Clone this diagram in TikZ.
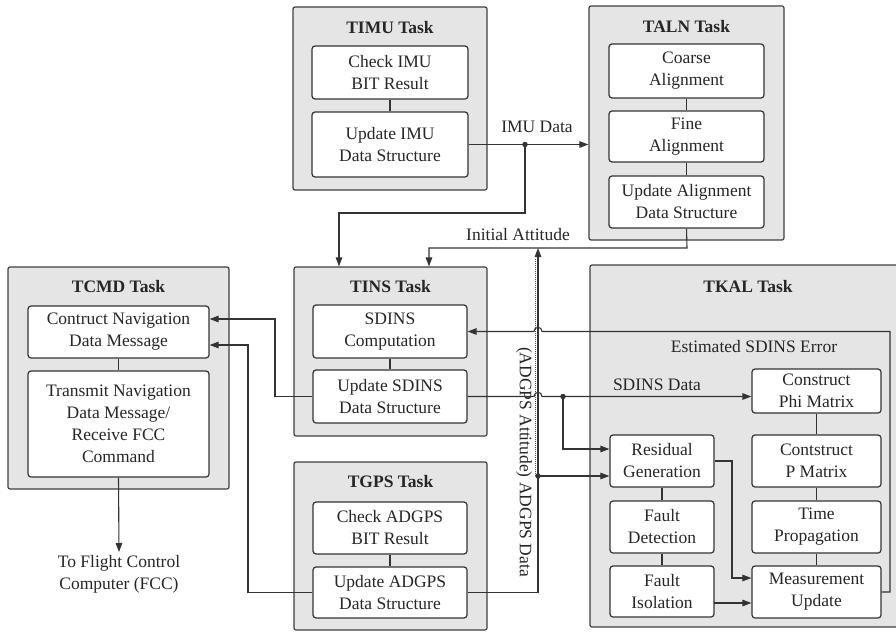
\documentclass[tikz,border=0pt]{standalone}
\usepackage{fontspec}
\setmainfont{Liberation Serif}
\usetikzlibrary{arrows.meta}
\newcommand\fsz{\fontsize{17.5}{22}\selectfont}
\begin{document}
\begin{tikzpicture}[x=1pt,y=-1pt,
 ln/.style={draw=black!80, line width=1.1pt},
 arr/.style={ln, -{Triangle[length=9pt,width=6.5pt]}},
 taskbox/.style={draw=black!75, line width=1.2pt, fill=black!10, rounded corners=2pt, inner sep=0pt},
 box/.style={draw=black!80, line width=1.2pt, fill=white, rounded corners=3pt, align=center, inner sep=0pt, text=black!85, font=\fsz},
 ttl/.style={font=\fsz\bfseries, text=black!85, inner sep=0pt},
 lbl/.style={font=\fsz, text=black!85, align=center, inner sep=0pt},
 dot/.style={circle, fill=black!80, inner sep=0pt, minimum size=5.5pt},
]
\useasboundingbox (0,0) rectangle (896,632);
\fill[white] (0,0) rectangle (896,632);

% ---------- task containers ----------
\node[taskbox, minimum width=194, minimum height=183] (timu) at (390,98.5) {};
\node[taskbox, minimum width=195, minimum height=234] (taln) at (686.5,123) {};
\node[taskbox, minimum width=193, minimum height=169] (tins) at (390.5,351.5) {};
\node[taskbox, minimum width=193, minimum height=168] (tgps) at (390.5,546) {};
\node[taskbox, minimum width=221, minimum height=222] (tcmd) at (118.5,378) {};
\begin{scope}
\clip (0,0) rectangle (896,632);
\node[taskbox, minimum width=320, minimum height=362] (tkal) at (750,446) {};
\end{scope}

% ---------- titles ----------
\node[ttl] (ttimu) at (390,28) {TIMU Task};
\node[ttl] (ttaln) at (686.5,27) {TALN Task};
\node[ttl] (ttins) at (390.5,287) {TINS Task};
\node[ttl] (ttgps) at (390.5,482) {TGPS Task};
\node[ttl] (ttcmd) at (118.5,287) {TCMD Task};
\node[ttl] (ttkal) at (748,287) {TKAL Task};

% ---------- inner boxes ----------
\node[box, minimum width=156, minimum height=53] (imu1) at (390,72.5) {Check IMU\\BIT Result};
\node[box, minimum width=156, minimum height=65] (imu2) at (390,144.5) {Update IMU\\Data Structure};

\node[box, minimum width=155, minimum height=54] (aln1) at (686.5,71) {Coarse\\Alignment};
\node[box, minimum width=155, minimum height=51] (aln2) at (686.5,136.5) {Fine\\Alignment};
\node[box, minimum width=155, minimum height=52] (aln3) at (686.5,202) {Update Alignment\\Data Structure};

\node[box, minimum width=154, minimum height=53] (ins1) at (390,331.5) {SDINS\\Computation};
\node[box, minimum width=154, minimum height=53] (ins2) at (390,396.5) {Update SDINS\\Data Structure};

\node[box, minimum width=154, minimum height=52] (gps1) at (390,528) {Check ADGPS\\BIT Result};
\node[box, minimum width=154, minimum height=51] (gps2) at (390,592.5) {Update ADGPS\\Data Structure};

\node[box, minimum width=181, minimum height=52] (cmd1) at (118.5,332) {Contruct Navigation\\Data Message};
\node[box, minimum width=181, minimum height=106] (cmd2) at (118.5,424) {Transmit Navigation\\Data Message/\\Receive FCC\\Command};

\node[box, minimum width=129, minimum height=44] (kal1) at (816.5,391) {Construct\\Phi Matrix};
\node[box, minimum width=129, minimum height=52] (kal2) at (816.5,461) {Contstruct\\P Matrix};
\node[box, minimum width=129, minimum height=52] (kal3) at (816.5,527) {Time\\Propagation};
\node[box, minimum width=129, minimum height=52] (kal4) at (816.5,592) {Measurement\\Update};

\node[box, minimum width=104, minimum height=52] (res) at (662,461) {Residual\\Generation};
\node[box, minimum width=104, minimum height=52] (fd) at (662,527) {Fault\\Detection};
\node[box, minimum width=104, minimum height=51] (fi) at (662,591.5) {Fault\\Isolation};

% ---------- stack links ----------
\draw[ln] (imu1) -- (imu2);
\draw[ln] (aln1) -- (aln2);
\draw[ln] (aln2) -- (aln3);
\draw[ln] (ins1) -- (ins2);
\draw[ln] (gps1) -- (gps2);
\draw[ln] (cmd1) -- (cmd2);
\draw[ln] (kal1) -- (kal2);
\draw[ln] (kal2) -- (kal3);
\draw[ln] (kal3) -- (kal4);
\draw[ln] (res) -- (fd);
\draw[ln] (fd) -- (fi);

% ---------- labels ----------
\node[lbl] (limu) at (537,127) {IMU Data};
\node[lbl] (lia) at (518,235) {Initial Attitude};
\node[lbl] (lest) at (754,347) {Estimated SDINS Error};
\node[lbl] (lsd) at (657,385) {SDINS Data};
\node[lbl, rotate=-90] (lgps) at (524,462) {(ADGPS Attitude) ADGPS Data};
\node[lbl] (lfcc) at (119,574) {To Flight Control\\Computer (FCC)};

% ---------- coordinates ----------
\coordinate (dimu) at (525,144.5);
\coordinate (b1) at (525,213);
\coordinate (b2) at (339,213);
\coordinate (ia1) at (687,248);
\coordinate (ia2) at (429,248);
\coordinate (g1) at (538,592.5);
\coordinate (g2) at (538,248);
\coordinate (dgps) at (538,476);
\coordinate (dsd) at (563,396.5);
\coordinate (sd1) at (563,449);
\coordinate (e1) at (890,592);
\coordinate (e2) at (890,331.5);
\coordinate (c1) at (275,396.5);
\coordinate (c2) at (275,319);
\coordinate (c3) at (248,592.5);
\coordinate (c4) at (248,345);
\coordinate (r1) at (732,461);
\coordinate (r2) at (732,578);
\coordinate (f1) at (714,603);
\coordinate (fcc) at (119,552);

% ---------- connectors ----------
\draw[arr] (imu2.east) -- (taln.west |- imu2.east);
\draw[arr] (dimu) -- (b1) -- (b2) -- (tins.north -| b2);
\draw[arr] (aln3.south) -- (ia1) -- (ia2) -- (tins.north -| ia2);

\draw[arr] (gps2.east) -- (g1) -- (g2);
\draw[draw=black!70, line width=1pt, densely dotted] (535,476) -- (535,258);
\draw[arr] (dgps) -- (res.west |- dgps);

\draw[arr] (ins2.east) -- (534,396.5) .. controls (534,391) and (542,391) .. (542,396.5) -- (kal1.west |- ins2.east);
\draw[arr] (dsd) -- (sd1) -- (res.west |- sd1);

\draw[arr] (kal4.east) -- (e1) -- (e2) -- (542,331.5) .. controls (542,326) and (534,326) .. (534,331.5) -- (ins1.east);

\draw[arr] (ins2.west) -- (c1) -- (c2) -- (cmd1.east |- c2);
\draw[arr] (gps2.west) -- (c3) -- (c4) -- (cmd1.east |- c4);
\draw[arr] (cmd2.south) -- (fcc);

\draw[arr] (res.east) -- (r1) -- (r2) -- (kal4.west |- r2);
\draw[arr] (f1) -- (kal4.west |- f1);

\node[dot] (ndimu) at (dimu) {};
\node[dot] (ndgps) at (dgps) {};
\node[dot] (ndsd) at (dsd) {};
\end{tikzpicture}
\end{document}
